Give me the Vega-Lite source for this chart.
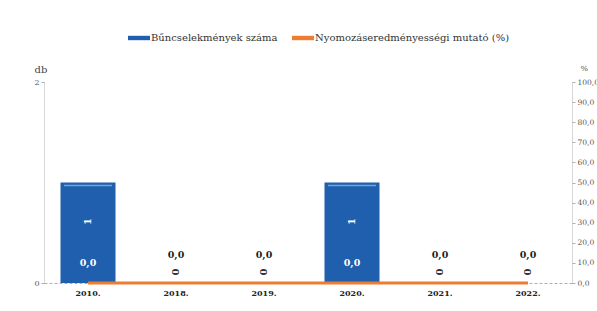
{
  "$schema": "https://vega.github.io/schema/vega-lite/v6.json",
  "width": 528,
  "height": 201,
  "autosize": "none",
  "padding": {"left": 44, "top": 82, "right": 25, "bottom": 28},
  "background": "white",
  "config": {
    "font": "DejaVu Serif",
    "view": {"stroke": null},
    "axis": {"grid": false, "labelFont": "DejaVu Serif", "titleFont": "DejaVu Serif"},
    "legend": {"labelFont": "DejaVu Serif", "titleFont": "DejaVu Serif"},
    "text": {"font": "DejaVu Serif"},
    "locale": {"number": {"decimal": ",", "thousands": " ", "grouping": [3], "currency": ["", " Ft"]}}
  },
  "data": {
    "values": [
      {"year": "2010.", "count": 1, "pct": 0},
      {"year": "2018.", "count": 0, "pct": 0},
      {"year": "2019.", "count": 0, "pct": 0},
      {"year": "2020.", "count": 1, "pct": 0},
      {"year": "2021.", "count": 0, "pct": 0},
      {"year": "2022.", "count": 0, "pct": 0}
    ]
  },
  "encoding": {
    "x": {
      "field": "year", "type": "ordinal", "sort": null,
      "scale": {"paddingInner": 0.375, "paddingOuter": 0.1875},
      "axis": {"title": null, "labelAngle": 0, "labelFontWeight": "bold", "labelFontSize": 8, "labelColor": "#222", "ticks": false, "domainColor": "#b0b0b0", "domainDash": [3, 2], "labelPadding": 6}
    }
  },
  "layer": [
    {
      "encoding": {
        "y": {
          "field": "count", "type": "quantitative",
          "scale": {"domain": [0, 2], "nice": false},
          "axis": {"values": [0, 2], "title": "db", "titleAngle": 0, "titleX": -10, "titleY": -8, "titleAlign": "left", "titleBaseline": "bottom", "titleFontWeight": "normal", "titleFontSize": 10, "titleColor": "#444", "labelFontSize": 8, "labelColor": "#555", "domainColor": "#b0b0b0", "domainDash": [1, 1], "tickSize": 3, "tickColor": "#b0b0b0"}
        }
      },
      "layer": [
        {
          "mark": {"type": "bar", "color": "#1f5fad"},
          "encoding": {
            "color": {
              "datum": "Bűncselekmények száma",
              "scale": {"domain": ["Bűncselekmények száma", "Nyomozáseredményességi mutató (%)"], "range": ["#1f5fad", "#ed7d31"]},
              "legend": {"title": null, "orient": "none", "legendX": 84, "legendY": -55, "direction": "horizontal", "symbolType": "M-1,-0.2H1V0.2H-1Z", "symbolSize": 484, "symbolStrokeWidth": 0, "labelFontSize": 10, "labelColor": "#333", "labelLimit": 400, "columnPadding": 14, "labelOffset": 1}
            }
          }
        },
        {
          "transform": [{"filter": "datum.count > 0"}],
          "mark": {"type": "tick", "color": "#9cc3ea", "size": 48, "thickness": 1.5, "yOffset": 3}
        },
        {
          "transform": [{"filter": "datum.count > 0"}],
          "mark": {"type": "text", "angle": -90, "color": "white", "fontWeight": "bold", "fontSize": 10, "yOffset": 39, "baseline": "middle"},
          "encoding": {"text": {"field": "count", "type": "quantitative"}}
        },
        {
          "transform": [{"filter": "datum.count == 0"}],
          "mark": {"type": "text", "angle": -90, "color": "#333", "fontWeight": "bold", "fontSize": 10, "yOffset": -11, "baseline": "middle"},
          "encoding": {"text": {"field": "count", "type": "quantitative"}}
        }
      ]
    },
    {
      "encoding": {
        "y": {
          "field": "pct", "type": "quantitative",
          "scale": {"domain": [0, 100], "nice": false},
          "axis": {"orient": "right", "values": [0, 10, 20, 30, 40, 50, 60, 70, 80, 90, 100], "format": ".1f", "title": "%", "titleAngle": 0, "titleX": 8, "titleY": -10, "titleAlign": "left", "titleBaseline": "bottom", "titleFontWeight": "normal", "titleFontSize": 8, "titleColor": "#555", "labelFontSize": 7.5, "labelColor": "#555", "domainColor": "#b0b0b0", "domainDash": [1, 1], "tickSize": 3, "tickColor": "#b0b0b0"}
        }
      },
      "layer": [
        {
          "mark": {"type": "line", "color": "#ed7d31", "strokeWidth": 3},
          "encoding": {"color": {"datum": "Nyomozáseredményességi mutató (%)"}}
        },
        {
          "transform": [{"filter": "datum.count > 0"}],
          "mark": {"type": "text", "color": "white", "fontWeight": "bold", "fontSize": 9.5, "yOffset": -20, "baseline": "middle"},
          "encoding": {"text": {"field": "pct", "type": "quantitative", "format": ".1f"}}
        },
        {
          "transform": [{"filter": "datum.count == 0"}],
          "mark": {"type": "text", "color": "#222", "fontWeight": "bold", "fontSize": 9.5, "yOffset": -28, "baseline": "middle"},
          "encoding": {"text": {"field": "pct", "type": "quantitative", "format": ".1f"}}
        }
      ]
    }
  ],
  "resolve": {"scale": {"y": "independent"}}
}
